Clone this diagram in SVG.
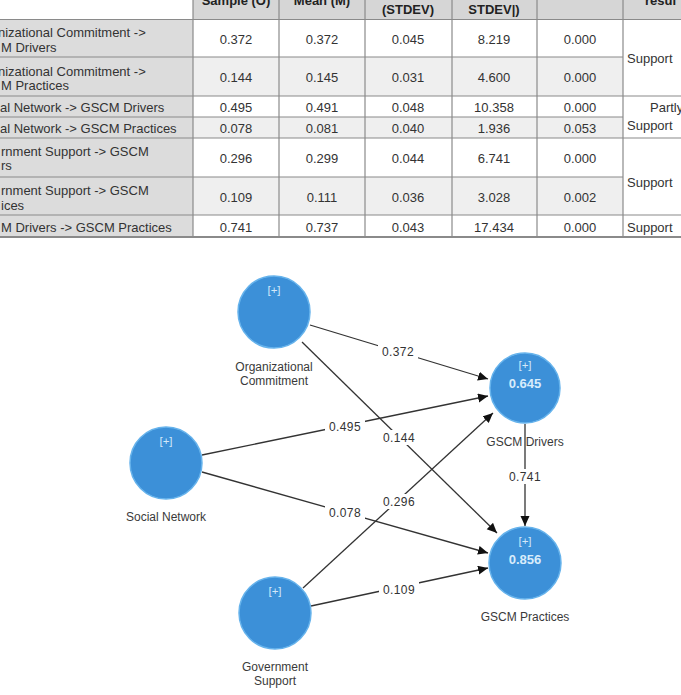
<svg xmlns="http://www.w3.org/2000/svg" width="681" height="695" viewBox="0 0 681 695">
<style>
.t{font-family:"Liberation Sans",Arial,sans-serif;font-size:13px;fill:#333}
.c{text-anchor:middle}
.h{font-weight:bold;fill:#222}
.grid{stroke:#8a8a8a;stroke-width:1.2;fill:none}
.node{fill:#3c90d8;stroke:#66b3ec;stroke-width:1.5}
.plus{font-family:"Liberation Sans",Arial,sans-serif;font-size:11.5px;fill:#d3e8f9;text-anchor:middle}
.r2{font-family:"Liberation Sans",Arial,sans-serif;font-size:13px;font-weight:bold;fill:#d8ecfb;text-anchor:middle}
.lbl{font-family:"Liberation Sans",Arial,sans-serif;font-size:12px;fill:#3a3a3a;text-anchor:middle}
.el{font-family:"Liberation Sans",Arial,sans-serif;font-size:12px;fill:#333;text-anchor:middle;letter-spacing:0.4px}
.edge{stroke:#333;stroke-width:1.3;fill:none;marker-end:url(#arr)}
</style>
<defs>
<marker id="arr" markerUnits="userSpaceOnUse" markerWidth="11" markerHeight="10" refX="10" refY="4.5" orient="auto">
<path d="M0,0 L10,4.5 L0,9 z" fill="#111"/>
</marker>
</defs>
<rect width="681" height="695" fill="#fff"/>

<g id="table">
<rect x="193" y="0" width="488" height="19" fill="#d6d6d6"/>
<rect x="0" y="19" width="193" height="218" fill="#dcdcdc"/>
<rect x="193" y="57" width="430" height="39" fill="#efefef"/>
<rect x="193" y="117" width="430" height="21" fill="#efefef"/>
<rect x="193" y="177" width="430" height="38" fill="#efefef"/>
<line class="grid" x1="0" y1="19.5" x2="681" y2="19.5"/>
<line class="grid" x1="0" y1="57" x2="623" y2="57"/>
<line class="grid" x1="0" y1="96" x2="681" y2="96"/>
<line class="grid" x1="0" y1="117" x2="623" y2="117"/>
<line class="grid" x1="0" y1="138" x2="681" y2="138"/>
<line class="grid" x1="0" y1="177" x2="623" y2="177"/>
<line class="grid" x1="0" y1="215" x2="681" y2="215"/>
<line x1="0" y1="237" x2="681" y2="237" stroke="#8a8a8a" stroke-width="2"/>
<line class="grid" x1="193" y1="0" x2="193" y2="237"/>
<line class="grid" x1="279" y1="0" x2="279" y2="237"/>
<line class="grid" x1="365" y1="0" x2="365" y2="237"/>
<line class="grid" x1="452" y1="0" x2="452" y2="237"/>
<line class="grid" x1="537" y1="0" x2="537" y2="237"/>
<line class="grid" x1="623" y1="0" x2="623" y2="237"/>
<text class="t c h" x="236" y="5">Sample (O)</text>
<text class="t c h" x="322" y="5">Mean (M)</text>
<text class="t c h" x="408" y="14">(STDEV)</text>
<text class="t c h" x="494" y="14">STDEV|)</text>
<text class="t h" x="645" y="5">resul</text>
<text class="t" x="-2" y="37">nizational Commitment -&gt;</text>
<text class="t" x="1" y="52">M Drivers</text>
<text class="t" x="-2" y="76">nizational Commitment -&gt;</text>
<text class="t" x="1" y="90">M Practices</text>
<text class="t" x="0" y="112">al Network -&gt; GSCM Drivers</text>
<text class="t" x="0" y="133">al Network -&gt; GSCM Practices</text>
<text class="t" x="1" y="156">rnment Support -&gt; GSCM</text>
<text class="t" x="1" y="170">rs</text>
<text class="t" x="1" y="195">rnment Support -&gt; GSCM</text>
<text class="t" x="1" y="210">ices</text>
<text class="t" x="1" y="232">M Drivers -&gt; GSCM Practices</text>
<g class="t c">
<text x="236" y="44">0.372</text><text x="322" y="44">0.372</text><text x="408" y="44">0.045</text><text x="494" y="44">8.219</text><text x="580" y="44">0.000</text>
<text x="236" y="82">0.144</text><text x="322" y="82">0.145</text><text x="408" y="82">0.031</text><text x="494" y="82">4.600</text><text x="580" y="82">0.000</text>
<text x="236" y="112">0.495</text><text x="322" y="112">0.491</text><text x="408" y="112">0.048</text><text x="494" y="112">10.358</text><text x="580" y="112">0.000</text>
<text x="236" y="133">0.078</text><text x="322" y="133">0.081</text><text x="408" y="133">0.040</text><text x="494" y="133">1.936</text><text x="580" y="133">0.053</text>
<text x="236" y="163">0.296</text><text x="322" y="163">0.299</text><text x="408" y="163">0.044</text><text x="494" y="163">6.741</text><text x="580" y="163">0.000</text>
<text x="236" y="202">0.109</text><text x="322" y="202">0.111</text><text x="408" y="202">0.036</text><text x="494" y="202">3.028</text><text x="580" y="202">0.002</text>
<text x="236" y="232">0.741</text><text x="322" y="232">0.737</text><text x="408" y="232">0.043</text><text x="494" y="232">17.434</text><text x="580" y="232">0.000</text>
</g>
<text class="t" x="627" y="63">Support</text>
<text class="t" x="650" y="112">Partly</text>
<text class="t" x="627" y="130">Support</text>
<text class="t" x="627" y="187">Support</text>
<text class="t" x="627" y="232">Support</text>
</g>

<g id="connectors">
<line class="edge" x1="310" y1="325" x2="488" y2="379"/>
<line class="edge" x1="302" y1="342" x2="497" y2="533"/>
<line class="edge" x1="202" y1="455" x2="488" y2="396"/>
<line class="edge" x1="202" y1="472" x2="488" y2="553"/>
<line class="edge" x1="303" y1="588" x2="493" y2="413"/>
<line class="edge" x1="311" y1="606" x2="488" y2="568"/>
<line class="edge" x1="525" y1="424" x2="525" y2="526"/>
<g fill="#fff">
<rect x="378" y="344" width="40" height="15"/>
<rect x="379" y="430" width="40" height="15"/>
<rect x="325" y="419" width="40" height="15"/>
<rect x="325" y="505" width="40" height="15"/>
<rect x="379" y="494" width="40" height="15"/>
<rect x="379" y="582" width="40" height="15"/>
<rect x="507" y="469" width="36" height="15"/>
</g>
<text class="el" x="398" y="356">0.372</text>
<text class="el" x="399" y="442">0.144</text>
<text class="el" x="345" y="431">0.495</text>
<text class="el" x="345" y="517">0.078</text>
<text class="el" x="399" y="506">0.296</text>
<text class="el" x="399" y="594">0.109</text>
<text class="el" x="525" y="481">0.741</text>
</g>

<g id="org">
<circle class="node" cx="274" cy="312" r="36"/>
<text class="plus" x="274" y="294">[+]</text>
<text class="lbl" x="274" y="371">Organizational</text>
<text class="lbl" x="274" y="385">Commitment</text>
</g>
<g id="social">
<circle class="node" cx="166" cy="463" r="36"/>
<text class="plus" x="166" y="445">[+]</text>
<text class="lbl" x="166" y="521">Social Network</text>
</g>
<g id="gov">
<circle class="node" cx="275" cy="613" r="36"/>
<text class="plus" x="275" y="595">[+]</text>
<text class="lbl" x="275" y="671">Government</text>
<text class="lbl" x="275" y="685">Support</text>
</g>
<g id="drivers">
<circle class="node" cx="525" cy="388" r="35"/>
<text class="plus" x="525" y="369">[+]</text>
<text class="r2" x="525" y="388">0.645</text>
<text class="lbl" x="525" y="446">GSCM Drivers</text>
</g>
<g id="practices">
<circle class="node" cx="525" cy="563" r="36"/>
<text class="plus" x="525" y="545">[+]</text>
<text class="r2" x="525" y="564">0.856</text>
<text class="lbl" x="525" y="621">GSCM Practices</text>
</g>
</svg>
